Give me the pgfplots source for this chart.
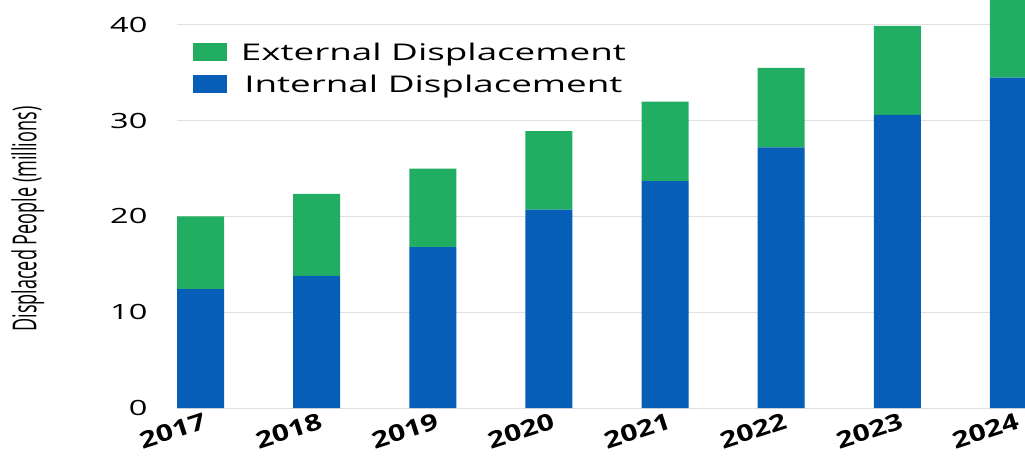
\documentclass[border=0pt]{standalone}
\usepackage{pgfplots}
\pgfplotsset{compat=1.18}
\usepackage{fontspec}
\setmainfont{Open Sans}
\definecolor{extgreen}{RGB}{34,174,98}
\definecolor{intblue}{RGB}{6,94,182}
\newcommand\hs[1]{\scalebox{1.55}[1]{#1}}
\newcommand\lgd[1]{\scalebox{1.6}[1]{#1}}
\newcommand\xl[1]{\scalebox{1.3}[1]{#1}}
\begin{document}
\begin{tikzpicture}
\begin{axis}[
  name=ax,
  scale only axis, width=848pt, height=408pt,
  ybar stacked, bar width=47pt,
  xmin=-0.203, xmax=7.1, ymin=0, ymax=42.6,
  xtick={0,1,2,3,4,5,6,7},
  xticklabels={\xl{2017},\xl{2018},\xl{2019},\xl{2020},\xl{2021},\xl{2022},\xl{2023},\xl{2024}},
  xticklabel style={font=\fontsize{23}{26}\selectfont\bfseries, rotate=18, anchor=north east, xshift=4pt, yshift=-1pt},
  ytick={0,10,20,30,40},
  yticklabels={\hs{0},\hs{10},\hs{20},\hs{30},\hs{40}},
  yticklabel style={font=\fontsize{21}{24}\selectfont, xshift=-26pt},
  major tick length=0pt,
  axis line style={draw=none},
  ymajorgrids, grid style={color=black!12, line width=0.9pt},
  ylabel={\scalebox{0.82}[1.5]{\fontsize{22}{25}\selectfont Displaced People (millions)}},
  ylabel style={at={(axis description cs:-0.176,0.463)}, anchor=center},
  reverse legend,
  legend style={at={(axis description cs:0.015,0.905)}, anchor=north west, draw=none, fill=none,
    font=\fontsize{23}{27}\selectfont, row sep=9pt,
    /tikz/every odd column/.append style={column sep=12pt}},
  legend image code/.code={\fill[#1, draw=none] (0pt,-9pt) rectangle (34pt,9pt);},
]
\addplot[fill=intblue, draw=none] coordinates {(0,12.4) (1,13.8) (2,16.8) (3,20.7) (4,23.7) (5,27.2) (6,30.6) (7,34.5)};
\addlegendentry{\lgd{Internal Displacement}}
\addplot[fill=extgreen, draw=none] coordinates {(0,7.6) (1,8.55) (2,8.2) (3,8.2) (4,8.3) (5,8.3) (6,9.3) (7,10.0)};
\addlegendentry{\lgd{External Displacement}}
\end{axis}
\pgfresetboundingbox
\path ([shift={(-177pt,-48pt)}]ax.south west) rectangle (ax.north east);
\end{tikzpicture}
\end{document}
